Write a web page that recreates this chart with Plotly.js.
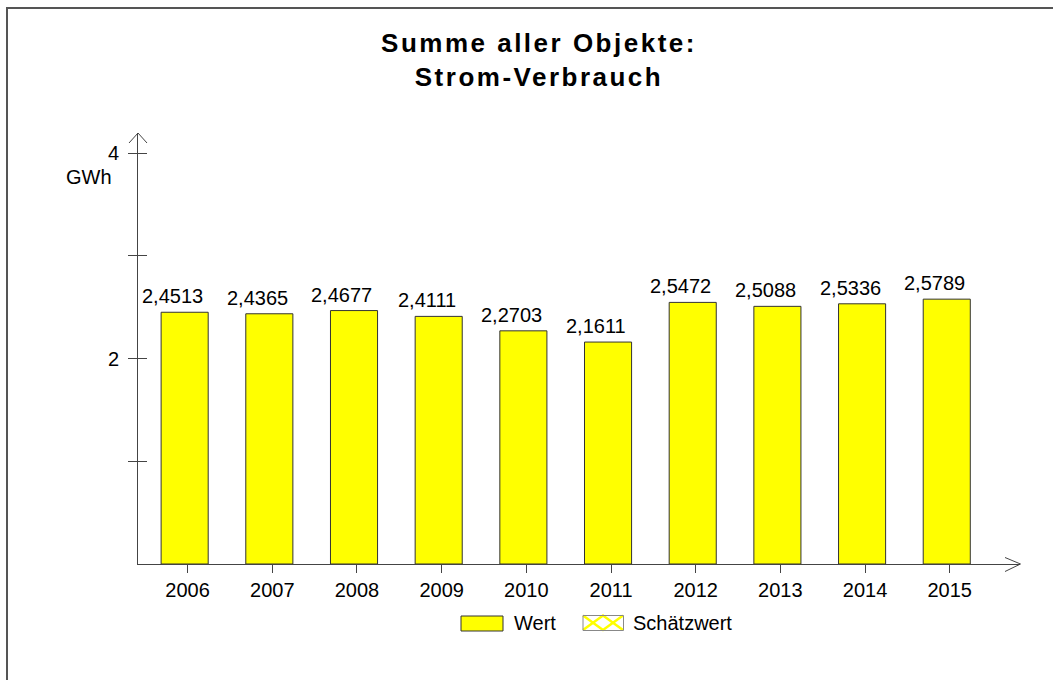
<!DOCTYPE html>
<html>
<head>
<meta charset="utf-8">
<script src="https://cdn.plot.ly/plotly-3.0.1.min.js"></script>
<style>
  html, body { margin: 0; padding: 0; background: #fff; }
  #chart { width: 1053px; height: 680px; }
  .gtitle { letter-spacing: 2.5px; }
</style>
</head>
<body>
<div id="chart"></div>
<script>
// ---- data ----
const years = ['2006', '2007', '2008', '2009', '2010', '2011', '2012', '2013', '2014', '2015'];
const wert = [2.4513, 2.4365, 2.4677, 2.4111, 2.2703, 2.1611, 2.5472, 2.5088, 2.5336, 2.5789];
const yTickVals = [1, 2, 3, 4];
const yTickText = ['', '2', '', '4'];
const unitLabel = 'GWh';
const legendNames = ['Wert', 'Schätzwert'];
const titleText = 'Summe aller Objekte:<br>Strom-Verbrauch';

// ---- geometry helpers (plot area in pixels) ----
const W = 1053, H = 680;
const L = 138, R = 1020, T = 133, B = 564;
const px2x = p => (p - L) / (R - L);
const py2y = p => (B - p) / (B - T);

const FONT = 'Liberation Sans, Arial, Helvetica, sans-serif';
const AX = '#444';

function fmt(v) { return v.toFixed(4).replace('.', ','); }

const traces = [{
  type: 'bar',
  x: years,
  y: wert,
  name: legendNames[0],
  width: 0.556,
  offset: -0.313,
  marker: { color: '#ffff00', line: { color: '#333', width: 1 } },
  hoverinfo: 'x+y',
  showlegend: false
}, {
  // empty helper trace so the overlaid tick axis (inner tick marks) is drawn
  type: 'scatter', x: [], y: [], xaxis: 'x', yaxis: 'y2',
  mode: 'markers', hoverinfo: 'skip', showlegend: false
}];

const annotations = years.map((yr, i) => ({
  x: i, y: wert[i], xref: 'x', yref: 'y',
  text: fmt(wert[i]), showarrow: false,
  xanchor: 'center', yanchor: 'bottom',
  xshift: -15, yshift: 3,
  font: { family: FONT, size: 20, color: '#000' }
}));

annotations.push({
  xref: 'paper', yref: 'paper', x: px2x(114), y: py2y(177),
  xanchor: 'right', yanchor: 'middle', showarrow: false,
  text: unitLabel, font: { family: FONT, size: 20, color: '#000' }
});
annotations.push({
  xref: 'paper', yref: 'paper', x: px2x(512), y: py2y(623),
  xanchor: 'left', yanchor: 'middle', showarrow: false,
  text: legendNames[0], font: { family: FONT, size: 20, color: '#000' }
});
annotations.push({
  xref: 'paper', yref: 'paper', x: px2x(631), y: py2y(623),
  xanchor: 'left', yanchor: 'middle', showarrow: false,
  text: legendNames[1], font: { family: FONT, size: 20, color: '#000' }
});

function pathPx(pts) {
  return pts.map((p, i) => (i ? 'L' : 'M') + px2x(p[0]) + ',' + py2y(p[1])).join(' ');
}

const shapes = [
  // outer frame (left + top)
  { type: 'path', xref: 'paper', yref: 'paper', path: pathPx([[7, 720], [7, 8], [1080, 8]]),
    line: { color: '#555', width: 2 } },
  // y-axis arrowhead
  { type: 'path', xref: 'paper', yref: 'paper', path: pathPx([[129, 143], [138, 133], [147, 143]]),
    line: { color: AX, width: 1 } },
  // x-axis arrowhead
  { type: 'path', xref: 'paper', yref: 'paper', path: pathPx([[1005, 557.5], [1020.5, 564], [1005, 571.5]]),
    line: { color: AX, width: 1 } },
  // legend swatch: Wert
  { type: 'rect', xref: 'paper', yref: 'paper', x0: px2x(461), x1: px2x(503), y0: py2y(631), y1: py2y(616),
    fillcolor: '#ffff00', line: { color: '#333', width: 1 } },
  // legend swatch: Schätzwert (crosshatch)
  { type: 'path', xref: 'paper', yref: 'paper', path: pathPx([[583, 615.5], [603, 630], [623, 615.5]]),
    line: { color: '#ffff00', width: 2.5 } },
  { type: 'path', xref: 'paper', yref: 'paper', path: pathPx([[583, 630], [603, 615.5], [623, 630]]),
    line: { color: '#ffff00', width: 2.5 } },
  { type: 'rect', xref: 'paper', yref: 'paper', x0: px2x(583), x1: px2x(623.5), y0: py2y(630.5), y1: py2y(615.5),
    fillcolor: 'rgba(0,0,0,0)', line: { color: '#888', width: 1 } }
];

const layout = {
  width: W, height: H,
  margin: { l: L, r: W - R, t: T, b: H - B, pad: 0 },
  paper_bgcolor: '#fff', plot_bgcolor: '#fff',
  showlegend: false,
  font: { family: FONT, size: 20, color: '#000' },
  title: {
    text: titleText,
    font: { family: FONT, size: 26, weight: 700, color: '#000' },
    xref: 'container', yref: 'container',
    x: 539 / W, xanchor: 'center',
    y: 1 - 52 / H, yanchor: 'top'
  },
  xaxis: {
    type: 'category',
    range: [-0.586, 9.83],
    showline: true, linecolor: AX, linewidth: 1,
    ticks: 'outside', ticklen: 8, tickcolor: AX, tickwidth: 1,
    showgrid: false, zeroline: false,
    tickfont: { family: FONT, size: 20, color: '#000' },
    fixedrange: true
  },
  yaxis: {
    range: [0, (B - T) / 102.7],
    showline: true, linecolor: AX, linewidth: 1,
    ticks: 'outside', ticklen: 9, tickcolor: AX, tickwidth: 1,
    tickmode: 'array', tickvals: yTickVals, ticktext: yTickText,
    ticklabelstandoff: 5,
    showgrid: false, zeroline: false,
    tickfont: { family: FONT, size: 20, color: '#000' },
    fixedrange: true
  },
  yaxis2: {
    overlaying: 'y', side: 'left', anchor: 'x',
    range: [0, (B - T) / 102.7],
    showline: false,
    ticks: 'inside', ticklen: 9, tickcolor: AX, tickwidth: 1,
    tickmode: 'array', tickvals: yTickVals,
    showticklabels: false, showgrid: false, zeroline: false,
    fixedrange: true
  },
  annotations: annotations,
  shapes: shapes,
  bargap: 0
};

Plotly.newPlot('chart', traces, layout, { displayModeBar: false, staticPlot: true });
</script>
</body>
</html>
